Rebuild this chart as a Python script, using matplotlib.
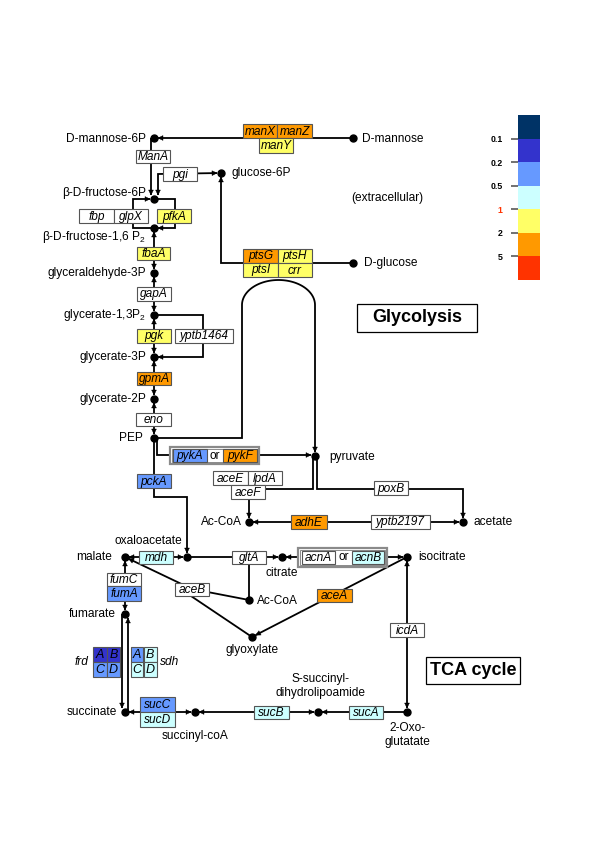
import matplotlib
matplotlib.use('Agg')
import matplotlib.pyplot as plt
from matplotlib.patches import Rectangle, Polygon
from matplotlib.colors import ListedColormap, BoundaryNorm
from matplotlib.cm import ScalarMappable
import numpy as np

plt.rcParams['font.family'] = ['Liberation Sans', 'DejaVu Sans']
plt.rcParams['mathtext.fontset'] = 'custom'
plt.rcParams['mathtext.rm'] = 'Liberation Sans'
plt.rcParams['mathtext.it'] = 'Liberation Sans:italic'

# ---------------- data ----------------
scale_bounds = [0.05, 0.1, 0.2, 0.5, 1, 2, 5, 10]
scale_colors = ['#003366', '#3333CC', '#6699FF', '#CCFFFF', '#FFFF66', '#FF9900', '#FF3300']
scale_ticks = [0.1, 0.2, 0.5, 1, 2, 5]
scale_ticklabels = ['0.1', '0.2', '0.5', '1', '2', '5']

genes = ['manX', 'manZ', 'manY', 'ManA', 'pgi', 'fbp', 'glpX', 'pfkA', 'fbaA',
         'ptsG', 'ptsH', 'ptsI', 'crr', 'gapA', 'pgk', 'yptb1464', 'gpmA', 'eno',
         'pykA', 'pykF', 'pckA', 'aceE', 'lpdA', 'aceF', 'poxB', 'adhE', 'yptb2197',
         'mdh', 'gltA', 'acnA', 'acnB', 'fumC', 'fumA', 'aceB', 'aceA', 'icdA',
         'frdA', 'frdB', 'frdC', 'frdD', 'sdhA', 'sdhB', 'sdhC', 'sdhD',
         'sucC', 'sucD', 'sucB', 'sucA']
fold = [3, 3, 1.5, None, None, None, None, 1.5, 1.5,
        3, 1.5, 1.5, 1.5, None, 1.5, None, 3, None,
        0.35, 3, 0.35, None, None, None, None, 3, None,
        0.7, None, None, 0.7, None, 0.35, None, 3, None,
        0.15, 0.15, 0.35, 0.35, 0.35, 0.7, 0.7, 0.7,
        0.35, 0.7, 0.7, 0.7]
subunit_genes = ['frdA', 'frdB', 'frdC', 'frdD', 'sdhA', 'sdhB', 'sdhC', 'sdhD']

metabolite_labels = ['D-mannose-6P', 'D-mannose', 'glucose-6P', 'β-D-fructose-6P',
                     'β-D-fructose-1,6 P$_2$', 'glyceraldehyde-3P', 'glycerate-1,3P$_2$',
                     'glycerate-3P', 'glycerate-2P', 'PEP', 'D-glucose', 'pyruvate',
                     'Ac-CoA', 'acetate', 'oxaloacetate', 'malate', 'citrate',
                     'isocitrate', 'Ac-CoA', 'glyoxylate', 'fumarate',
                     'S-succinyl-\ndihydrolipoamide', 'succinate', 'succinyl-coA',
                     '2-Oxo-\nglutatate']

# ---------------- layout (pixel coordinates, y downward) ----------------
P = {
    'man6p': (154, 138), 'man': (353, 138), 'g6p': (221, 173), 'f6p': (154, 199),
    'fbp16': (154, 228), 'g3p': (154, 273), 'bpg': (154, 315), 'pg3': (154, 357),
    'pg2': (154, 399), 'pep': (154, 438), 'glc': (353, 263), 'pyr': (315, 456),
    'accoa1': (249, 522), 'ace': (463, 522), 'oaa': (187, 557), 'mal': (125, 557),
    'cit': (282, 557), 'icit': (407, 557), 'accoa2': (249, 600), 'glx': (252, 637),
    'og': (407, 712), 'ssd': (318, 712), 'succoa': (195, 712), 'suc': (125, 712),
    'fum': (125, 614),
}
label_pos = [(146, 139, 'right'), (362, 139, 'left'), (232, 173, 'left'), (146, 193, 'right'),
             (146, 237, 'right'), (146, 273, 'right'), (146, 315, 'right'),
             (146, 357, 'right'), (146, 399, 'right'), (143, 438, 'right'), (364, 263, 'left'),
             (329, 457, 'left'), (242, 522, 'right'), (474, 522, 'left'), (148, 541, 'center'),
             (112, 557, 'right'), (282, 573, 'center'), (418, 557, 'left'), (257, 601, 'left'),
             (252, 650, 'center'), (116, 614, 'right'), (320, 686, 'center'),
             (117, 712, 'right'), (195, 736, 'center'), (407, 735, 'center')]

gene_box = {
    'manX': (243, 124, 277, 138), 'manZ': (277, 124, 312, 138), 'manY': (259, 138, 293, 153),
    'ManA': (136, 150, 170, 163), 'pgi': (163, 167, 197, 181),
    'fbp': (79, 209, 114, 223), 'glpX': (114, 209, 148, 223), 'pfkA': (157, 209, 191, 223),
    'fbaA': (137, 247, 170, 260),
    'ptsG': (243, 249, 278, 263), 'ptsH': (278, 249, 312, 263),
    'ptsI': (243, 263, 278, 277), 'crr': (278, 263, 312, 277),
    'gapA': (137, 287, 171, 301), 'pgk': (137, 329, 171, 343), 'yptb1464': (175, 329, 233, 343),
    'gpmA': (137, 372, 171, 385), 'eno': (136, 413, 171, 426),
    'pykA': (173, 449, 207, 462), 'pykF': (223, 449, 257, 462), 'pckA': (137, 474, 171, 488),
    'aceE': (213, 471, 248, 485), 'lpdA': (248, 471, 282, 485), 'aceF': (231, 485, 265, 499),
    'poxB': (374, 481, 408, 495), 'adhE': (291, 515, 327, 529), 'yptb2197': (371, 515, 430, 529),
    'mdh': (139, 551, 173, 564), 'gltA': (232, 551, 266, 564),
    'acnA': (302, 551, 335, 564), 'acnB': (352, 551, 384, 564),
    'fumC': (107, 573, 141, 586), 'fumA': (107, 586, 141, 601),
    'aceB': (175, 583, 209, 596), 'aceA': (317, 589, 352, 602), 'icdA': (390, 623, 424, 637),
    'frdA': (93, 647, 106.5, 661.5), 'frdB': (107, 647, 120, 661.5),
    'frdC': (93, 662, 106.5, 677), 'frdD': (107, 662, 120, 677),
    'sdhA': (131, 647, 143, 661.5), 'sdhB': (143.5, 647, 157, 661.5),
    'sdhC': (131, 662, 143, 677), 'sdhD': (143.5, 662, 157, 677),
    'sucC': (140, 697, 175, 712), 'sucD': (140, 712, 175, 727),
    'sucB': (254, 706, 289, 719), 'sucA': (349, 706, 383, 719),
}
or_boxes = [((170, 447, 259, 464), 215), ((298, 548, 387, 567), 343.5)]

FS = 8.6
LW = 1.3

fig = plt.figure(figsize=(6, 8.49), dpi=100)
ax = fig.add_axes([0, 0, 1, 1])
ax.set_xlim(0, 600)
ax.set_ylim(849, 0)
ax.axis('off')

cmap = ListedColormap(scale_colors)
norm = BoundaryNorm(scale_bounds, cmap.N)

R = 4.0


def head(tip, frm, L=5.0, W=2.4):
    tip = np.asarray(tip, float)
    d = tip - np.asarray(frm, float)
    d /= np.hypot(*d)
    base = tip - d * L
    perp = np.array([-d[1], d[0]])
    ax.add_patch(Polygon([tip, base + perp * W, base - perp * W], closed=True,
                         fc='black', ec='black', lw=0.3, zorder=3))


def path(pts, start=False, end=False, rs=R, re=R):
    pts = [np.asarray(p, float) for p in pts]
    if end:
        d = pts[-1] - pts[-2]
        d /= np.hypot(*d)
        pts[-1] = pts[-1] - d * re
    if start:
        d = pts[0] - pts[1]
        d /= np.hypot(*d)
        pts[0] = pts[0] - d * rs
    arr = np.array(pts)
    ax.plot(arr[:, 0], arr[:, 1], color='black', lw=LW, solid_capstyle='butt',
            solid_joinstyle='miter', zorder=2)
    if end:
        head(pts[-1], pts[-2])
    if start:
        head(pts[0], pts[1])


# ---------------- reactions ----------------
path([P['man'], P['man6p']], end=True)
path([(151, 138), (151, 199)], end=True)
path([P['g6p'], (158, 174), (158, 199)], start=True, end=True)
path([P['fbp16'], (133, 228), (133, 199), P['f6p']], end=True)
path([P['f6p'], (175, 199), (175, 228), P['fbp16']], end=True)
for a, b in [('fbp16', 'g3p'), ('g3p', 'bpg'), ('bpg', 'pg3'), ('pg3', 'pg2'), ('pg2', 'pep')]:
    path([P[a], P[b]], start=True, end=True)
path([P['bpg'], (203, 315), (203, 357), P['pg3']], end=True)
path([P['glc'], (221, 263), P['g6p']], end=True)

# PTS arc from PEP to pyruvate
th = np.linspace(np.pi, 0, 60)
arc = list(zip(278.5 + 36.5 * np.cos(th), 305 - 25 * np.sin(th)))
path([P['pep'], (242, 438), (242, 305)] + arc + [(315, 305), P['pyr']], end=True)

path([(157, 438), (157, 455), (315, 455)], end=True)
path([P['pep'], (154, 497), (187, 497), P['oaa']], end=True)
path([(313, 456), (313, 489), (249, 489), P['accoa1']], end=True)
path([(317, 456), (317, 489), (463, 489), P['ace']], end=True)
path([P['accoa1'], P['ace']], start=True, end=True)

path([P['oaa'], P['mal']], start=True, end=True)
path([P['oaa'], P['cit']], end=True)
path([(249, 557), P['accoa2']])
path([P['cit'], P['icit']], start=True, end=True)
path([P['icit'], P['og']], start=True, end=True)
path([P['icit'], P['glx']], end=True)
path([(192, 589), P['mal']], end=True)
path([(192, 589), P['accoa2']])
path([(185, 592), P['glx']])
path([P['mal'], P['fum']], start=True, end=True)
path([(122, 614), (122, 712)], end=True)
path([(128, 614), (128, 712)], start=True)
path([P['suc'], P['succoa']], start=True, end=True)
path([P['succoa'], P['ssd']], start=True, end=True)
path([P['og'], P['ssd']], end=True)

# ---------------- "or" boxes ----------------
for (x0, y0, x1, y1), xo in or_boxes:
    ax.add_patch(Rectangle((x0, y0), x1 - x0, y1 - y0, fc='white', ec='#8a8a8a', lw=1.6, zorder=4))
    ax.add_patch(Rectangle((x0 + 1.8, y0 + 1.8), x1 - x0 - 3.6, y1 - y0 - 3.6, fc='white',
                           ec='#8a8a8a', lw=0.7, zorder=4))
    ax.text(xo, (y0 + y1) / 2, 'or', ha='center', va='center', fontsize=FS, zorder=6)

# ---------------- gene boxes ----------------
for g, f in zip(genes, fold):
    x0, y0, x1, y1 = gene_box[g]
    fc = 'white' if f is None else cmap(norm(f))
    ax.add_patch(Rectangle((x0, y0), x1 - x0, y1 - y0, fc=fc, ec='#555555', lw=0.8, zorder=5))
    lab = g[-1] if g in subunit_genes else g
    fs = 9 if g in subunit_genes else FS
    ax.text((x0 + x1) / 2, (y0 + y1) / 2 + 0.5, lab, ha='center', va='center', fontsize=fs,
            style='italic', zorder=6)

ax.text(82, 662, 'frd', ha='center', va='center', fontsize=FS, style='italic')
ax.text(170, 662, 'sdh', ha='center', va='center', fontsize=FS, style='italic')

# ---------------- metabolites ----------------
for k, (x, y) in P.items():
    ax.plot(x, y, 'o', color='black', ms=5, zorder=7)
for t, (x, y, ha) in zip(metabolite_labels, label_pos):
    ax.text(x, y, t, ha=ha, va='center', fontsize=FS, zorder=6, linespacing=1.25)
ax.text(387, 198, '(extracellular)', ha='center', va='center', fontsize=FS)

# ---------------- titles ----------------
for (x0, y0, x1, y1), t in [((357, 304, 477, 332), 'Glycolysis'), ((426, 657, 520, 684), 'TCA cycle')]:
    ax.add_patch(Rectangle((x0, y0), x1 - x0, y1 - y0, fc='white', ec='black', lw=0.9, zorder=5))
    ax.text((x0 + x1) / 2, (y0 + y1) / 2, t, ha='center', va='center', fontsize=13,
            fontweight='bold', zorder=6)

# ---------------- colour scale ----------------
cax = fig.add_axes([518 / 600, 1 - 280 / 849, 22 / 600, 165 / 849])
cb = fig.colorbar(ScalarMappable(norm=norm, cmap=cmap), cax=cax, boundaries=scale_bounds,
                  spacing='uniform', ticks=scale_ticks)
cb.outline.set_visible(False)
cax.invert_yaxis()
cax.yaxis.set_ticks_position('left')
cax.tick_params(length=5, width=1.3, color='#666666', pad=6, labelsize=6.3)
cb.set_ticklabels(scale_ticklabels)
for lab in cax.get_yticklabels():
    lab.set_fontweight('bold')
    if lab.get_text() == '1':
        lab.set_color('#FF3300')
cax.minorticks_off()

fig.savefig('out.png', dpi=100)
